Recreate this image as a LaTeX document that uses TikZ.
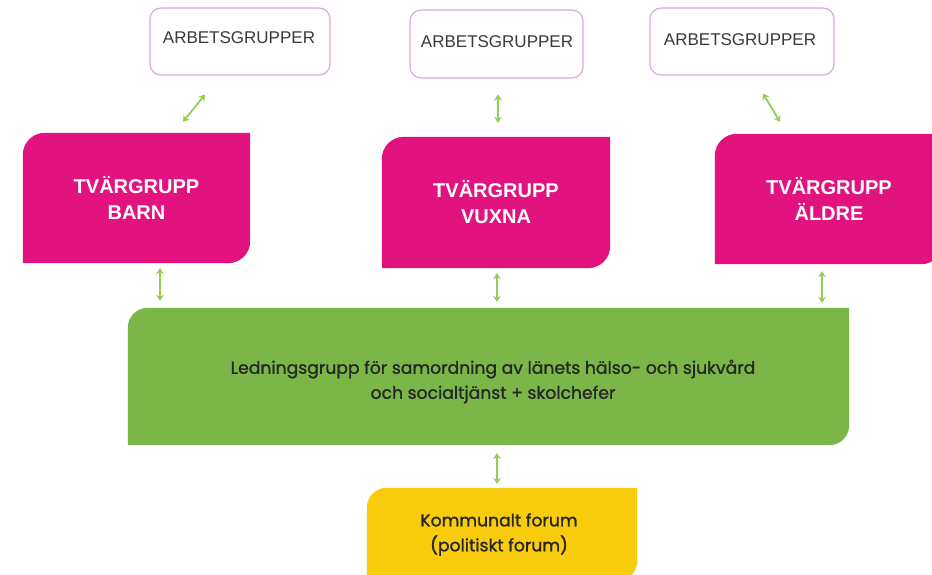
\documentclass[tikz,border=0pt]{standalone}
\usepackage{fontspec}
\setmainfont{Liberation Sans}
\newfontfamily\geofont[FakeBold=1.2]{Poppins}
\usetikzlibrary{arrows.meta,calc,backgrounds}

\definecolor{groupline}{HTML}{D9A9D9}
\definecolor{grouptext}{HTML}{3A3A3A}
\definecolor{crosspink}{HTML}{E2137F}
\definecolor{leadgreen}{HTML}{7AB648}
\definecolor{forumyellow}{HTML}{F8CC0C}
\definecolor{linkgreen}{HTML}{92CF54}

% filled box with the top-left and bottom-right corners rounded
\newcommand\diagshape[3]{%
  \fill[#2] (#1.south west) -- ([yshift=-#3]#1.north west)
    arc[start angle=180,end angle=90,radius=#3] -- (#1.north east)
    -- ([yshift=#3]#1.south east)
    arc[start angle=0,end angle=-90,radius=#3] -- cycle;}

\begin{document}
\begin{tikzpicture}[x=1pt,y=-1pt,
  workbox/.style={draw=groupline,line width=1.2pt,rounded corners=11pt,fill=white,
    inner sep=0pt,font=\fontsize{17}{20}\selectfont,text=grouptext},
  worktext/.style={inner sep=0pt,font=\fontsize{17}{20}\selectfont,text=grouptext},
  crossbox/.style={inner sep=0pt,minimum width=228pt,minimum height=130pt,
    align=center,text=white,font=\fontsize{20}{26}\selectfont\bfseries},
  leadbox/.style={inner sep=0pt,align=center,text=black!85,
    font=\geofont\fontsize{17.2}{25}\selectfont},
  link/.style={draw=linkgreen,line width=1.8pt,
    {Stealth[length=6pt,width=8pt]}-{Stealth[length=6pt,width=8pt]}}]

\useasboundingbox (0,0) rectangle (932,575);

% working groups
\node[workbox,minimum width=180pt,minimum height=67pt] (ab1) at (240,41.5) {};
\node[workbox,minimum width=173pt,minimum height=68pt] (ab2) at (496.5,44) {};
\node[workbox,minimum width=184pt,minimum height=67pt] (ab3) at (742,41.5) {};
\node[worktext] (ab1text) at (239,38) {ARBETSGRUPPER};
\node[worktext] (ab2text) at (497,42) {ARBETSGRUPPER};
\node[worktext] (ab3text) at (740,40) {ARBETSGRUPPER};

% cross groups
\node[crossbox,minimum width=227pt] (barn) at (136.5,198) {TVÄRGRUPP\\BARN};
\node[crossbox,minimum height=131pt] (vuxna) at (496,202.5) {TVÄRGRUPP\\VUXNA};
\node[crossbox] (aldre) at (829,199) {TVÄRGRUPP\\ÄLDRE};

% management group and municipal forum
\node[leadbox,minimum width=721pt,minimum height=137pt] (lead) at (488.5,376.5) {};
\node[leadbox] (leadtext) at (493,381.5) {Ledningsgrupp för samordning av länets hälso- och sjukvård\\och socialtjänst + skolchefer};
\node[leadbox,minimum width=270pt,minimum height=93pt] (forum) at (502,534.5) {};
\node[leadbox] (forumtext) at (499,534.5) {Kommunalt forum\\(politiskt forum)};

\begin{pgfonlayer}{background}
  \diagshape{barn}{crosspink}{22pt}
  \diagshape{vuxna}{crosspink}{22pt}
  \diagshape{aldre}{crosspink}{22pt}
  \diagshape{lead}{leadgreen}{20pt}
  \diagshape{forum}{forumyellow}{20pt}
\end{pgfonlayer}

% two-way links
\draw[link] ($(barn.north)+(46.5,-11)$) -- ($(ab1.south)+(-35,19)$);
\draw[link] ($(vuxna.north)+(2,-14)$) -- ($(ab2.south)+(1.5,16)$);
\draw[link] ($(aldre.north)+(-49,-12)$) -- ($(ab3.south)+(21,18)$);
\draw[link] ($(barn.south)+(23.5,5)$) -- ($(lead.north)+(-328.5,-7)$);
\draw[link] ($(vuxna.south)+(1,5)$) -- ($(lead.north)+(8.5,-6)$);
\draw[link] ($(aldre.south)+(-7,7)$) -- ($(lead.north)+(333.5,-5)$);
\draw[link] ($(lead.south)+(8.5,8)$) -- ($(forum.north)+(-5,-4)$);
\end{tikzpicture}
\end{document}
